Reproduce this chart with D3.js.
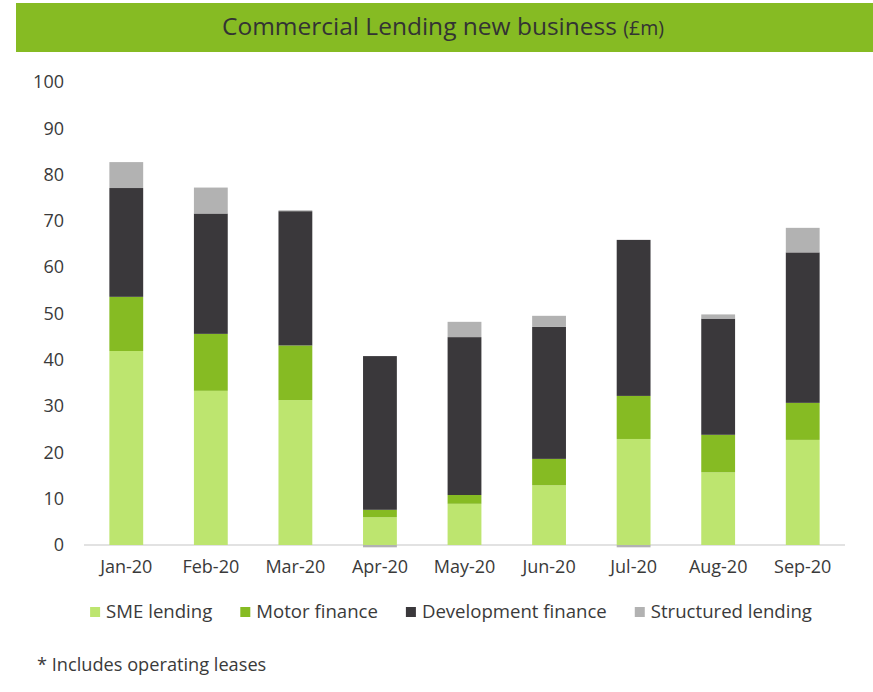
<!DOCTYPE html>
<html>
<head>
<meta charset="utf-8">
<script src="https://cdn.jsdelivr.net/npm/d3@7"></script>
<style>
  html, body { margin: 0; padding: 0; background: #fff; }
  svg { display: block; font-family: "Open Sans", "DejaVu Sans", sans-serif; }
</style>
</head>
<body>
<svg id="chart" width="873" height="692"></svg>
<script>
const months = ["Jan-20","Feb-20","Mar-20","Apr-20","May-20","Jun-20","Jul-20","Aug-20","Sep-20"];
const smeLending        = [41.9, 33.3, 31.3,  6.0,  8.9, 12.9, 22.9, 15.7, 22.7];
const motorFinance      = [11.7, 12.3, 11.8,  1.6,  1.9,  5.7,  9.3,  8.1,  8.0];
const developmentFinance= [23.5, 26.0, 29.0, 33.2, 34.1, 28.5, 33.7, 25.1, 32.5];
const structuredLending = [ 5.6,  5.6,  0.2, -0.5,  3.3,  2.4, -0.5,  0.9,  5.3];
const seriesNames = ["SME lending","Motor finance","Development finance","Structured lending"];
const seriesColors = ["#BDE56F","#86BB23","#3A383B","#B2B2B2"];
const yTicks = [0,10,20,30,40,50,60,70,80,90,100];
const titleMain = "Commercial Lending new business";
const titleUnit = "(£m)";
const footnote = "* Includes operating leases";

const seriesValues = [smeLending, motorFinance, developmentFinance, structuredLending];
const rows = months.map((m, i) => {
  const r = { month: m };
  seriesNames.forEach((s, k) => r[s] = seriesValues[k][i]);
  return r;
});

const svg = d3.select("#chart");
const textColor = "#3a3a3a";

// Title bar
svg.append("rect").attr("x", 16).attr("y", 3).attr("width", 857).attr("height", 49).attr("fill", "#86BB23");
const title = svg.append("text").attr("x", 443).attr("y", 35).attr("text-anchor", "middle").attr("fill", "#333");
title.append("tspan").attr("font-size", 24.5).text(titleMain + " ");
title.append("tspan").attr("font-size", 19.5).text(titleUnit);

const x = d3.scaleBand().domain(months).range([84, 845]).paddingInner(0.6).paddingOuter(0.3);
const y = d3.scaleLinear().domain([0, 100]).range([545, 82]);

const stack = d3.stack().keys(seriesNames).offset(d3.stackOffsetDiverging);
const stacked = stack(rows);

// x axis line
svg.append("line").attr("x1", 84).attr("x2", 845).attr("y1", y(0)).attr("y2", y(0))
  .attr("stroke", "#D9D9D9").attr("stroke-width", 1.5);

svg.append("g").selectAll("g").data(stacked).join("g")
  .attr("fill", (d, i) => seriesColors[i])
  .selectAll("rect").data(d => d).join("rect")
  .attr("x", d => x(d.data.month))
  .attr("width", x.bandwidth())
  .attr("y", d => y(Math.max(d[0], d[1])))
  .attr("height", d => Math.abs(y(d[0]) - y(d[1])));

// y axis labels
const yAxis = d3.axisLeft(y).tickValues(yTicks).tickSize(0).tickPadding(0);
const gy = svg.append("g").attr("transform", "translate(64,0)").call(yAxis);
gy.select(".domain").remove();
gy.selectAll("text").attr("font-size", 18).attr("fill", textColor).attr("font-family", "Open Sans");

// x axis labels
const xAxis = d3.axisBottom(x).tickSize(0).tickPadding(0);
const gx = svg.append("g").attr("transform", "translate(0,560)").call(xAxis);
gx.select(".domain").remove();
gx.selectAll("text").attr("font-size", 18).attr("fill", textColor).attr("font-family", "Open Sans").attr("dy", "0.71em");

// legend
const legend = svg.append("g");
const items = legend.selectAll("g").data(seriesNames).join("g");
items.append("rect").attr("width", 10).attr("height", 10).attr("y", -11).attr("fill", (d, i) => seriesColors[i]);
items.append("text").attr("x", 16).attr("y", 0).attr("font-size", 18.6).attr("fill", textColor).text(d => d);
let cx = 0;
const widths = [];
items.each(function() {
  const w = 16 + this.querySelector("text").getComputedTextLength();
  widths.push(w);
});
const totalW = d3.sum(widths) + 28 * (widths.length - 1);
cx = 451 - totalW / 2;
items.attr("transform", (d, i) => {
  const tx = cx; cx += widths[i] + 28;
  return `translate(${tx},618)`;
});

// footnote
svg.append("text").attr("x", 37).attr("y", 671).attr("font-size", 18.2).attr("fill", textColor).text(footnote);
</script>
</body>
</html>
